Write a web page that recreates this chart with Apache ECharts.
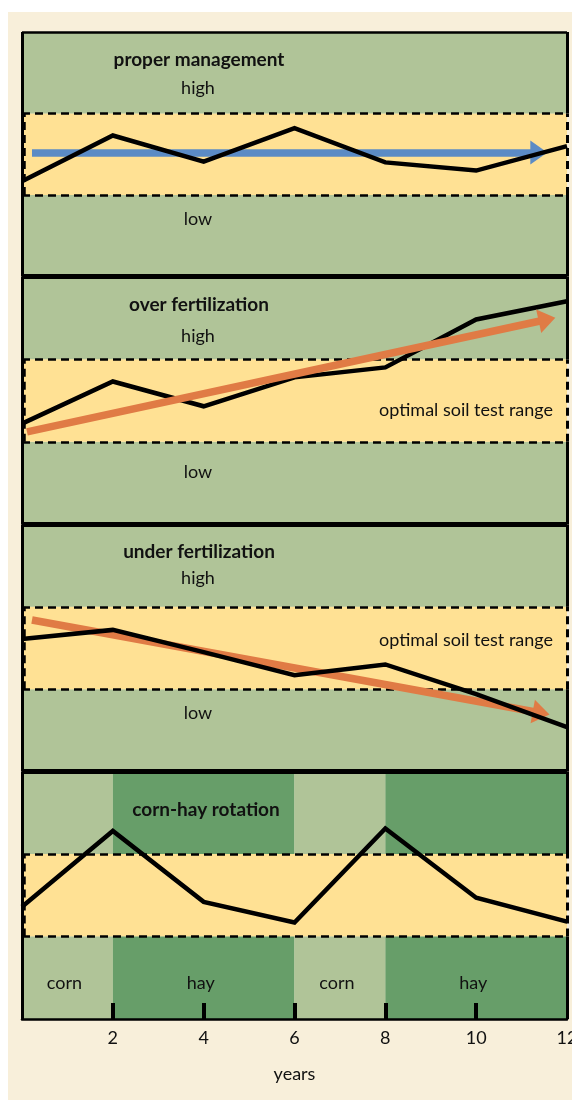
<!DOCTYPE html>
<html>
<head>
<meta charset="utf-8">
<script src="https://cdn.jsdelivr.net/npm/echarts@6/dist/echarts.min.js"></script>
<style>
  html, body { margin: 0; padding: 0; background: #ffffff; }
  #chart { width: 572px; height: 1100px; }
</style>
</head>
<body>
<div id="chart"></div>
<script>
// ---- data ----
const years = [0, 2, 4, 6, 8, 10, 12];
const yearTicks = [2, 4, 6, 8, 10, 12];
const panelTitles = ['proper management', 'over fertilization', 'under fertilization', 'corn-hay rotation'];
// soil test level: 0-1 low, 1-2 optimal range, 2-3 high
const properManagement = [1.17, 1.73, 1.41, 1.82, 1.40, 1.30, 1.60];
const overFertilization = [1.22, 1.73, 1.43, 1.78, 1.90, 2.48, 2.70];
const underFertilization = [1.61, 1.72, 1.45, 1.17, 1.30, 0.94, 0.54];
const cornHayRotation = [1.36, 2.28, 1.42, 1.17, 2.31, 1.47, 1.18];
// trend arrows: [startYear, startLevel, endYear, endLevel]
const properTrend = [0.22, 1.52, 11.38, 1.52];
const overTrend = [0.11, 1.12, 11.56, 2.48];
const underTrend = [0.22, 1.84, 11.43, 0.71];
// crop rotation blocks
const rotationCrops = ['corn', 'hay', 'corn', 'hay'];
const rotationStart = [0, 2, 6, 8];
const rotationEnd = [2, 6, 8, 12];
const optimalLow = 1, optimalHigh = 2, levelMax = 3, yearMax = 12;

// ---- styles ----
const FONT = 'Lato';
const C = {
  cream: '#F8EFDA',
  light: '#B0C498',
  dark: '#679E69',
  yellow: '#FFE194',
  blue: '#5B8BC5',
  orange: '#E07B45',
  ink: '#111111'
};
const panels = [
  { top: 32, height: 244.5 },
  { top: 276.5, height: 248 },
  { top: 524.5, height: 247 },
  { top: 771.5, height: 247.5 }
];
const seriesValues = [properManagement, overFertilization, underFertilization, cornHayRotation];
const trends = [properTrend, overTrend, underTrend, null];
const trendColors = [C.blue, C.orange, C.orange, null];
const lineOnTop = [true, false, true, true];

const chart = echarts.init(document.getElementById('chart'), null, { renderer: 'canvas' });

const seg = (x0, y0, x1, y1, style) => [
  { coord: [x0, y0], lineStyle: style },
  { coord: [x1, y1] }
];
const solid = w => ({ color: '#000', width: w, type: 'solid' });
const dashed = w => ({ color: '#000', width: w, type: [8, 5] });

// panel frame: dashed edges of the optimal range, solid outer border
function frameLines(i) {
  return [
    seg(0, optimalLow, yearMax, optimalLow, dashed(2.5)),
    seg(0, optimalHigh, yearMax, optimalHigh, dashed(2.5)),
    seg(0, 0, 0, levelMax, solid(3)),
    seg(0.06, optimalLow, 0.06, optimalHigh, dashed(2.5)),
    seg(yearMax, 0, yearMax, optimalLow, solid(3)),
    seg(yearMax, optimalLow, yearMax, optimalHigh, dashed(3)),
    seg(yearMax, optimalHigh, yearMax, levelMax, solid(3)),
    seg(0, levelMax, yearMax, levelMax, solid(i === 0 ? 2.5 : 5))
  ];
}

function bandAreas(i) {
  if (i < 3) {
    return [
      [{ yAxis: 0, itemStyle: { color: C.light } }, { yAxis: optimalLow }],
      [{ yAxis: optimalLow, itemStyle: { color: C.yellow } }, { yAxis: optimalHigh }],
      [{ yAxis: optimalHigh, itemStyle: { color: C.light } }, { yAxis: levelMax }]
    ];
  }
  const areas = [[{ yAxis: optimalLow, itemStyle: { color: C.yellow } }, { yAxis: optimalHigh }]];
  rotationCrops.forEach((crop, k) => {
    const col = crop === 'corn' ? C.light : C.dark;
    areas.push([
      { name: crop, xAxis: rotationStart[k], yAxis: 0, itemStyle: { color: col },
        label: { show: true } },
      { xAxis: rotationEnd[k], yAxis: optimalLow }
    ]);
    areas.push([
      { xAxis: rotationStart[k], yAxis: optimalHigh, itemStyle: { color: col } },
      { xAxis: rotationEnd[k], yAxis: levelMax }
    ]);
  });
  return areas;
}

const grids = [], xAxes = [], yAxes = [], series = [];
panels.forEach((p, i) => {
  grids.push({ left: 22, right: 5, top: p.top, height: p.height,
    containLabel: false, outerBoundsMode: 'none' });
  const last = i === panels.length - 1;
  xAxes.push({
    gridIndex: i, type: 'value', min: 0, max: yearMax, interval: 2,
    show: last, z: 10,
    splitLine: { show: false },
    axisLine: { show: last, lineStyle: { color: '#000', width: 2.5 } },
    axisTick: { show: last, inside: true, length: 16, customValues: [2, 4, 6, 8, 10],
      lineStyle: { color: '#000', width: 4 } },
    axisLabel: { show: last, customValues: yearTicks, margin: 10, color: C.ink,
      fontFamily: FONT, fontSize: 18 },
    name: last ? 'years' : '', nameLocation: 'middle', nameGap: 46,
    nameTextStyle: { color: C.ink, fontFamily: FONT, fontSize: 18 }
  });
  yAxes.push({ gridIndex: i, type: 'value', min: 0, max: levelMax, show: false });

  series.push({
    type: 'line', name: panelTitles[i],
    xAxisIndex: i, yAxisIndex: i,
    data: years.map((y, k) => [y, seriesValues[i][k]]),
    symbol: 'none', clip: false, silent: true,
    z: lineOnTop[i] ? 6 : 4,
    lineStyle: { color: '#000', width: 4.5, join: 'miter' },
    markArea: {
      silent: true, z: 1,
      label: { show: false, position: 'inside', offset: [-3, 5], color: C.ink,
        fontFamily: FONT, fontSize: 18 },
      data: bandAreas(i)
    },
    markLine: {
      silent: true, symbol: ['none', 'none'], z: 2,
      label: { show: false },
      data: frameLines(i)
    }
  });

  if (trends[i]) {
    const t = trends[i];
    series.push({
      type: 'line', name: panelTitles[i] + ' trend',
      xAxisIndex: i, yAxisIndex: i, data: [], clip: false, silent: true,
      z: 5,
      markLine: {
        silent: true, z: 5,
        symbol: ['none', 'triangle'], symbolSize: [24, 17],
        label: { show: false },
        lineStyle: { color: trendColors[i], width: 7.5, type: 'solid', cap: 'butt' },
        itemStyle: { color: trendColors[i] },
        data: [[{ coord: [t[0], t[1]] }, { coord: [t[2], t[3]] }]]
      }
    });
  }
});

// text labels drawn on the panels
const txt = (x, y, s, opts = {}) => ({
  type: 'text', x, y, z: 100, silent: true,
  style: {
    text: s, fill: C.ink, font: `${opts.bold ? 'bold ' : ''}${opts.size || 18}px ${FONT}`,
    textAlign: opts.align || 'center', textVerticalAlign: 'middle'
  }
});

const graphics = [
  { type: 'rect', x: 8, y: 12, z: -100, silent: true, shape: { width: 564, height: 1088 },
    style: { fill: C.cream } },
  txt(199, 60, panelTitles[0], { bold: true, size: 19 }),
  txt(198, 88, 'high'),
  txt(198, 219, 'low'),
  txt(199, 305, panelTitles[1], { bold: true, size: 19 }),
  txt(198, 336, 'high'),
  txt(553, 410, 'optimal soil test range', { align: 'right' }),
  txt(198, 472, 'low'),
  txt(199, 552, panelTitles[2], { bold: true, size: 19 }),
  txt(198, 578, 'high'),
  txt(553, 640, 'optimal soil test range', { align: 'right' }),
  txt(198, 713, 'low'),
  txt(206, 810, panelTitles[3], { bold: true, size: 19 })
];

chart.setOption({
  backgroundColor: '#ffffff',
  animation: false,
  grid: grids,
  xAxis: xAxes,
  yAxis: yAxes,
  series: series,
  graphic: graphics
});
</script>
</body>
</html>
